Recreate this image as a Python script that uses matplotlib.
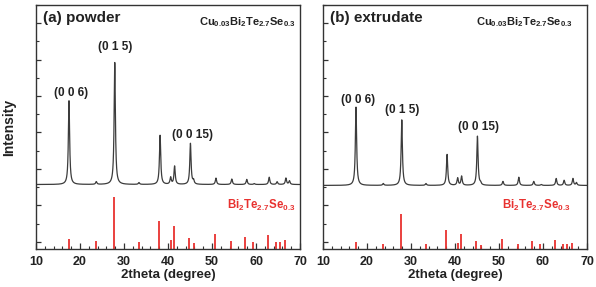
import numpy as np
import matplotlib
matplotlib.use("Agg")
import matplotlib.pyplot as plt
from matplotlib.ticker import MultipleLocator

plt.rcParams['font.family'] = ['Liberation Sans', 'DejaVu Sans']
plt.rcParams['font.weight'] = 'bold'
plt.rcParams['mathtext.fontset'] = 'custom'
plt.rcParams['mathtext.default'] = 'bf'
plt.rcParams['mathtext.bf'] = 'Liberation Sans:bold'
plt.rcParams['mathtext.rm'] = 'Liberation Sans:bold'

# measured peaks (2theta, height above background, a.u.)
peakPos = [17.5, 23.7, 27.9, 33.4, 38.2, 40.6, 41.5, 45.1, 45.8, 50.9, 54.5, 57.9, 59.6, 63.0, 64.8, 66.8, 67.6]
powderHeights = [4.6, 0.15, 6.7, 0.1, 2.7, 0.38, 1.0, 2.25, 0.2, 0.35, 0.3, 0.28, 0.05, 0.4, 0.15, 0.35, 0.2]
extrudateHeights = [4.3, 0.1, 3.6, 0.1, 1.7, 0.4, 0.5, 2.7, 0.1, 0.22, 0.45, 0.22, 0.05, 0.38, 0.28, 0.38, 0.15]
powderBackground = 3.14
extrudateBackground = 3.09

# reference pattern Bi2Te2.7Se0.3 (2theta, relative intensity %)
refPos = [17.4, 23.65, 27.8, 33.4, 38.0, 40.6, 41.4, 44.8, 45.8, 50.7, 54.3, 57.6, 59.4, 62.8, 64.6, 65.5, 66.6]
refInt = [19, 15, 100, 13, 53, 17, 44, 22, 12, 29, 15, 24, 13, 27, 13, 13, 17]
refScale = {"a": 2.86, "b": 1.92}

panels = [
    ("a", "(a) powder", powderHeights, powderBackground,
     [("(0 0 6)", 18.05, 8.17), ("(0 1 5)", 28.0, 10.7), ("(0 0 15)", 45.5, 5.86)]),
    ("b", "(b) extrudate", extrudateHeights, extrudateBackground,
     [("(0 0 6)", 17.95, 7.79), ("(0 1 5)", 27.95, 7.24), ("(0 0 15)", 45.45, 6.3)]),
]

fig = plt.figure(figsize=(5.96, 2.87), dpi=100)
axPos = {"a": [36 / 596, 38 / 287, 264 / 596, 244 / 287],
         "b": [323 / 596, 38 / 287, 264 / 596, 244 / 287]}

twoTheta = np.arange(10, 70.001, 0.01)
yMin, yMax = -0.4, 13.0
red = '#e8312f'
dark = '#333333'

for key, title, heights, background, labels in panels:
    ax = fig.add_axes(axPos[key])
    pattern = np.full_like(twoTheta, background)
    for p, h in zip(peakPos, heights):
        g = 0.17
        pattern += h * g ** 2 / ((twoTheta - p) ** 2 + g ** 2)
    ax.plot(twoTheta, pattern, color='#3c3c3c', lw=0.9)

    ax.vlines(refPos, yMin, yMin + np.array(refInt) / 100 * refScale[key], color=red, lw=1.3)

    ax.set_xlim(10, 70)
    ax.set_ylim(yMin, yMax)
    ax.xaxis.set_major_locator(MultipleLocator(10))
    ax.xaxis.set_minor_locator(MultipleLocator(2))
    ax.yaxis.set_major_locator(MultipleLocator(2))
    ax.yaxis.set_minor_locator(MultipleLocator(1))
    ax.set_yticklabels([])
    ax.tick_params(direction='in', which='major', length=4, width=0.9, color=dark,
                   labelsize=9, pad=5, labelcolor='#222222')
    ax.tick_params(direction='in', which='minor', length=2.5, width=0.8, color=dark)
    ax.tick_params(axis='y', which='major', length=3.5)
    ax.tick_params(axis='y', which='minor', length=2.5)
    for s in ax.spines.values():
        s.set_color(dark)
        s.set_linewidth(1.0)

    for txt, x, y in labels:
        ax.text(x, y, txt, ha='center', va='center', fontsize=8.5, fontweight='bold', color='#222222')

    ax.text(0.025, 0.945, title, transform=ax.transAxes, ha='left', va='center',
            fontsize=11, fontweight='bold', color='#222222')
    rightEdge = 0.985 if key == "a" else 0.947
    ax.text(rightEdge, 0.928, r'$Cu_{0.03}Bi_{2}Te_{2.7}Se_{0.3}$', transform=ax.transAxes,
            ha='right', va='center', fontsize=8, color='#222222')
    redEdge = 0.985 if key == "a" else 0.936
    ax.text(redEdge, 0.18, r'$Bi_{2}Te_{2.7}Se_{0.3}$', transform=ax.transAxes,
            ha='right', va='center', fontsize=8.3, color=red)

    ax.set_xlabel("2theta (degree)", fontsize=9.5, fontweight='bold', labelpad=1, color='#222222')
    if key == "a":
        ax.set_ylabel("Intensity", fontsize=10, fontweight='bold', color='#222222', va='center')
        ax.yaxis.set_label_coords(-0.1, 0.5)

plt.savefig("out.png", dpi=100)
